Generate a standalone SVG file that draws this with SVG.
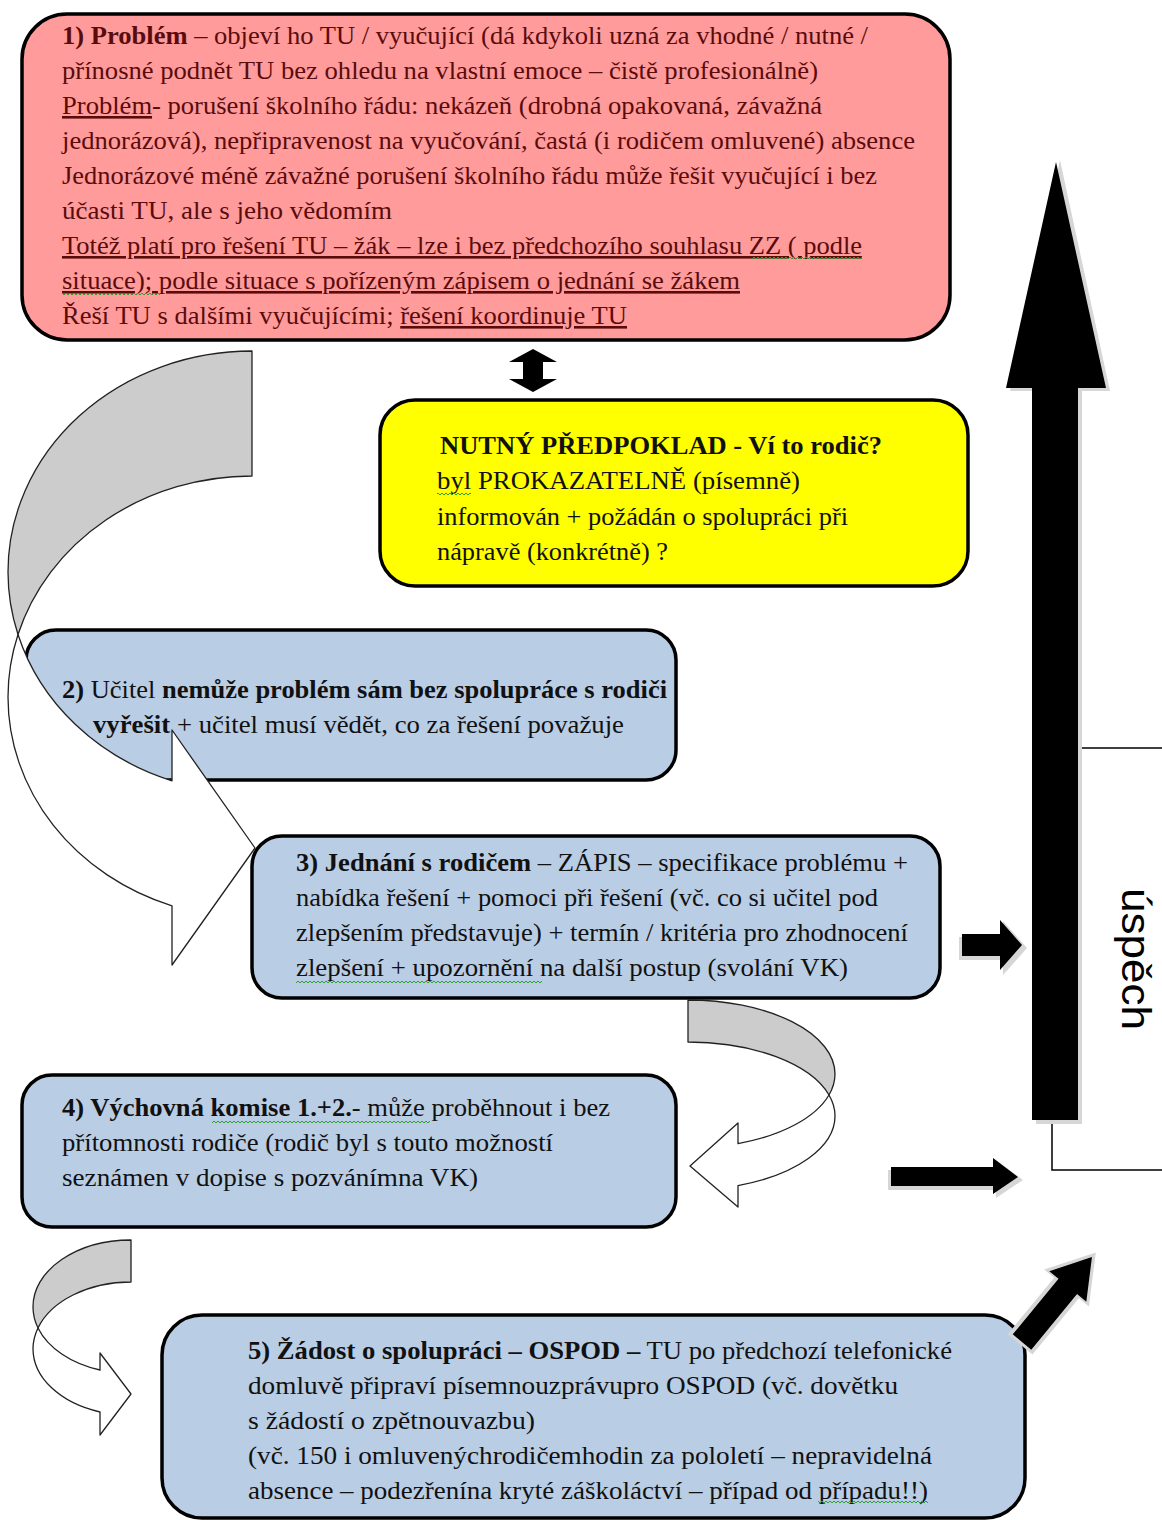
<svg xmlns="http://www.w3.org/2000/svg" width="1162" height="1520" viewBox="0 0 1162 1520">
<style>
.t{font-family:"Liberation Serif","Times New Roman",serif;font-size:26px;fill:#111}
.r{fill:#5a0c0c}
.b{font-weight:bold}
.u{text-decoration:underline}
.box{stroke:#000;stroke-width:3.5}
.red{fill:#ff9b9b}
.yel{fill:#ffff00}
.blu{fill:#b9cde5}
.sq{fill:url(#squig)}
.blk{fill:#000}
.shd{fill:#d6d6d6}
.cv{stroke:#222;stroke-width:1.3;stroke-linejoin:round}
.grey{fill:#cccccc}
.wht{fill:#ffffff}
.ln{fill:none;stroke:#000;stroke-width:1.5}
.us{font-family:"Liberation Sans",Arial,sans-serif;font-size:40px;fill:#000}
</style>
<defs>
<pattern id="squig" width="4" height="4" patternUnits="userSpaceOnUse">
<path d="M0,3 L2,1 L4,3" fill="none" stroke="#2e9e2e" stroke-width="1"/>
</pattern>
</defs>
<rect width="1162" height="1520" fill="#fff"/>

<g id="node1">
<rect class="box red" x="22" y="14" width="928" height="326" rx="45"/>
<text class="t r" x="62" y="44" textLength="806" lengthAdjust="spacingAndGlyphs"><tspan class="b">1) Problém</tspan> – objeví ho TU / vyučující (dá kdykoli uzná za vhodné / nutné /</text>
<text class="t r" x="62" y="79" textLength="756" lengthAdjust="spacingAndGlyphs">přínosné podnět TU bez ohledu na vlastní emoce – čistě profesionálně)</text>
<text class="t r" x="62" y="114" textLength="760" lengthAdjust="spacingAndGlyphs"><tspan class="u">Problém</tspan>- porušení školního řádu: nekázeň (drobná opakovaná, závažná</text>
<text class="t r" x="62" y="149" textLength="853" lengthAdjust="spacingAndGlyphs">jednorázová), nepřipravenost na vyučování, častá (i rodičem omluvené) absence</text>
<text class="t r" x="62" y="184" textLength="815" lengthAdjust="spacingAndGlyphs">Jednorázové méně závažné porušení školního řádu může řešit vyučující i bez</text>
<text class="t r" x="62" y="219" textLength="330" lengthAdjust="spacingAndGlyphs">účasti TU, ale s jeho vědomím</text>
<text class="t r u" x="62" y="254" textLength="800" lengthAdjust="spacingAndGlyphs">Totéž platí pro řešení TU – žák – lze i bez předchozího souhlasu ZZ ( podle</text>
<text class="t r u" x="62" y="289" textLength="678" lengthAdjust="spacingAndGlyphs">situace); podle situace s pořízeným zápisem o jednání se žákem</text>
<text class="t r" x="62" y="324" textLength="565" lengthAdjust="spacingAndGlyphs">Řeší TU s dalšími vyučujícími; <tspan class="u">řešení koordinuje TU</tspan></text>
<rect class="sq" x="752" y="256" width="110" height="4"/>
<rect class="sq" x="62" y="292" width="98" height="4"/>
</g>

<g id="node-predpoklad">
<rect class="box yel" x="380" y="400" width="588" height="186" rx="35"/>
<text class="t b" x="440" y="454" textLength="442" lengthAdjust="spacingAndGlyphs">NUTNÝ PŘEDPOKLAD - Ví to rodič?</text>
<text class="t" x="437" y="489" textLength="363" lengthAdjust="spacingAndGlyphs">byl PROKAZATELNĚ (písemně)</text>
<text class="t" x="437" y="525" textLength="411" lengthAdjust="spacingAndGlyphs">informován + požádán o spolupráci při</text>
<text class="t" x="437" y="560" textLength="231" lengthAdjust="spacingAndGlyphs">nápravě (konkrétně) ?</text>
<rect class="sq" x="437" y="492" width="34" height="4"/>
</g>

<g id="node2">
<rect class="box blu" x="26" y="630" width="650" height="150" rx="30"/>
<text class="t" x="62" y="698" textLength="605" lengthAdjust="spacingAndGlyphs"><tspan class="b">2)</tspan> Učitel <tspan class="b">nemůže problém sám bez spolupráce s rodiči</tspan></text>
<text class="t" x="93" y="733" textLength="531" lengthAdjust="spacingAndGlyphs"><tspan class="b">vyřešit</tspan> + učitel musí vědět, co za řešení považuje</text>
</g>

<g id="node3">
<rect class="box blu" x="252" y="836" width="688" height="162" rx="30"/>
<text class="t" x="296" y="871" textLength="612" lengthAdjust="spacingAndGlyphs"><tspan class="b">3) Jednání s rodičem</tspan> – ZÁPIS – specifikace problému +</text>
<text class="t" x="296" y="906" textLength="582" lengthAdjust="spacingAndGlyphs">nabídka řešení + pomoci při řešení (vč. co si učitel pod</text>
<text class="t" x="296" y="941" textLength="612" lengthAdjust="spacingAndGlyphs">zlepšením představuje) + termín / kritéria pro zhodnocení</text>
<text class="t" x="296" y="976" textLength="552" lengthAdjust="spacingAndGlyphs">zlepšení + upozornění na další postup (svolání VK)</text>
<rect class="sq" x="296" y="980" width="246" height="4"/>
</g>

<g id="node4">
<rect class="box blu" x="22" y="1075" width="654" height="152" rx="30"/>
<text class="t" x="62" y="1116" textLength="548" lengthAdjust="spacingAndGlyphs"><tspan class="b">4) Výchovná komise 1.+2.</tspan>- může proběhnout i bez</text>
<text class="t" x="62" y="1151" textLength="491" lengthAdjust="spacingAndGlyphs">přítomnosti rodiče (rodič byl s touto možností</text>
<text class="t" x="62" y="1186" textLength="416" lengthAdjust="spacingAndGlyphs">seznámen v dopise s pozvánímna VK)</text>
<rect class="sq" x="212" y="1120" width="218" height="4"/>
</g>

<g id="node5">
<rect class="box blu" x="162" y="1315" width="863" height="203" rx="40"/>
<text class="t" x="248" y="1359" textLength="704" lengthAdjust="spacingAndGlyphs"><tspan class="b">5) Žádost o spolupráci – OSPOD –</tspan> TU po předchozí telefonické</text>
<text class="t" x="248" y="1394" textLength="650" lengthAdjust="spacingAndGlyphs">domluvě připraví písemnouzprávupro OSPOD (vč. dovětku</text>
<text class="t" x="248" y="1429" textLength="287" lengthAdjust="spacingAndGlyphs">s žádostí o zpětnouvazbu)</text>
<text class="t" x="248" y="1464" textLength="684" lengthAdjust="spacingAndGlyphs">(vč. 150 i omluvenýchrodičemhodin za pololetí – nepravidelná</text>
<text class="t" x="248" y="1499" textLength="680" lengthAdjust="spacingAndGlyphs">absence – podezřenína kryté záškoláctví – případ od případu!!)</text>
<rect class="sq" x="818" y="1500" width="110" height="4"/>
</g>

<g id="node-uspech">
<rect class="ln" x="1052" y="748" width="200" height="422"/>
<text class="us" transform="translate(1122,888) rotate(90)" textLength="142" lengthAdjust="spacingAndGlyphs">úspěch</text>
</g>

<g id="connectors">
<polygon class="blk" points="533,349 509,362 523,362 523,379 509,379 533,392 557,379 543,379 543,362 557,362"/>
<path class="cv grey" d="M252,351 A244,221 0 0 0 8,572 A244,221 0 0 0 18,634.5 A244,221 0 0 1 252,476 Z"/>
<path class="cv wht" d="M18,634.5 A244,221 0 0 0 172,780.8 L172,730 L255,848 L172,965 L172,905.8 A244,221 0 0 1 8,697 A244,221 0 0 1 18,634.5 Z"/>
<path class="cv grey" d="M688,1000 A147,74 0 0 1 835,1074 A147,74 0 0 1 829,1095 A147,74 0 0 0 688,1042 Z"/>
<path class="cv wht" d="M829,1095 A147,74 0 0 1 738,1143.6 L738,1123 L690,1166 L738,1207 L738,1185.6 A147,74 0 0 0 835,1116 A147,74 0 0 0 829,1095 Z"/>
<path class="cv grey" d="M131,1240 A98,66.7 0 0 0 33,1306.7 A98,66.7 0 0 0 38,1328 A98,66.7 0 0 1 131,1282 Z"/>
<path class="cv wht" d="M38,1328 A98,66.7 0 0 0 100,1370 L100,1353 L131,1394 L100,1435 L100,1412 A98,66.7 0 0 1 33,1349 A98,66.7 0 0 1 38,1328 Z"/>
<path class="shd" d="M959,937 H1003 V921 L1027,948 L1003,975 V960 H959 Z"/>
<path class="blk" d="M962,934 H1000 V920 L1022,945 L1000,970 V956 H962 Z"/>
<path class="shd" d="M888,1170 H996 V1160 L1023,1180 L996,1198 V1190 H888 Z"/>
<path class="blk" d="M891,1167 H993 V1158 L1018,1177 L993,1194 V1186 H891 Z"/>
<g transform="translate(1022,1342) rotate(-50.5)">
<path class="shd" d="M-3,-16 H70 V-29 L116,0 L70,29 V16 H-3 Z"/>
<path class="blk" d="M0,-12 H72 V-24 L110,0 L72,24 V12 H0 Z"/>
</g>
<path class="shd" d="M1060,160 L1110,391 L1082,391 L1082,1124 L1036,1124 L1036,391 L1010,391 Z"/>
<path class="blk" d="M1056,162 L1106,388 L1078,388 L1078,1120 L1032,1120 L1032,388 L1006,388 Z"/>
</g>
</svg>
